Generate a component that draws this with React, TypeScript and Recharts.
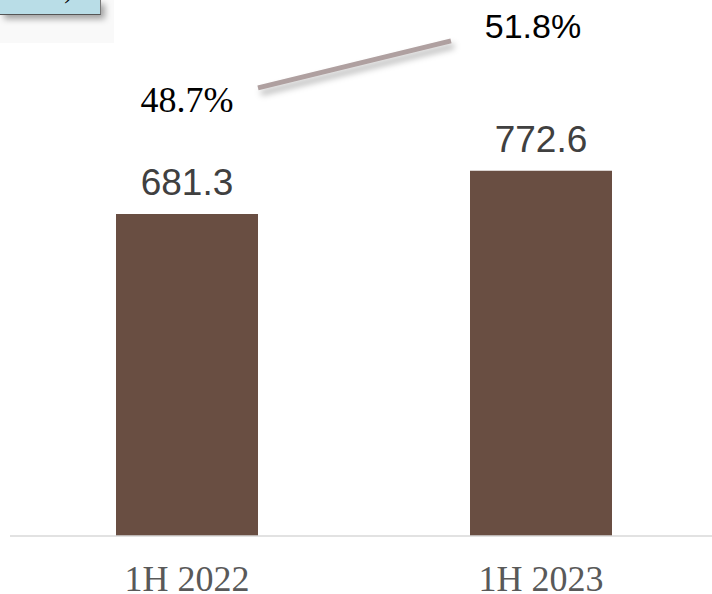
import React from 'react';
import {
  ComposedChart,
  Bar,
  Line,
  XAxis,
  YAxis,
  LabelList,
} from 'recharts';

// Values
const periods = ['1H 2022', '1H 2023'];
const revenue = [681.3, 772.6];
const margin = [48.7, 51.8];

const data = periods.map((period, i) => ({
  period,
  revenue: revenue[i],
  margin: margin[i],
}));

const SERIF = '"Liberation Serif", "Times New Roman", serif';
const SANS = '"Liberation Sans", Arial, sans-serif';

// per-label look of the percentage labels (the original mixes fonts)
const pctLabelStyle = [
  { font: SERIF, size: 36, dx: 0, dy: 24 },
  { font: SANS, size: 34, dx: -8, dy: -3 },
];

const renderPctLabel = (props: any) => {
  const { x, y, value, index } = props;
  const i = typeof index === 'number' ? index : margin.indexOf(Number(value));
  const s = pctLabelStyle[i] || pctLabelStyle[0];
  return (
    <text
      key={`pct-${i}`}
      x={Number(x) + s.dx}
      y={Number(y) + s.dy}
      textAnchor="middle"
      fill="#000000"
      fontFamily={s.font}
      fontSize={s.size}
    >
      {Number(value).toFixed(1) + '%'}
    </text>
  );
};

export default function App() {
  return (
    <div
      style={{
        position: 'absolute',
        top: 0,
        left: 0,
        width: 712,
        height: 594,
        overflow: 'hidden',
        background: '#ffffff',
      }}
    >
      {/* cropped unit box in the corner */}
      <div style={{ position: 'absolute', left: 0, top: 0, width: 114, height: 43, background: '#f9f9f9' }} />
      <div
        style={{
          position: 'absolute',
          left: 0,
          top: 0,
          width: 100,
          height: 14,
          background: '#b9dde7',
          borderBottom: '1px solid #555555',
          borderRight: '1px solid #777777',
          boxShadow: '4px 4px 6px rgba(0,0,0,0.35)',
          overflow: 'hidden',
        }}
      >
        <div
          style={{
            position: 'absolute',
            right: 27,
            top: -25,
            fontFamily: SERIF,
            fontSize: 26,
            lineHeight: '30px',
            color: '#000000',
            whiteSpace: 'nowrap',
          }}
        >
          (RMB mn)
        </div>
      </div>

      <div style={{ position: 'absolute', left: 0, top: 0 }}>
        <ComposedChart
          width={722}
          height={594}
          data={data}
          margin={{ top: 0, right: 4, bottom: 0, left: 10 }}
        >
          <XAxis
            xAxisId="cat"
            dataKey="period"
            height={58}
            axisLine={{ stroke: '#d9d9d9', strokeWidth: 1.5 }}
            tickLine={false}
            tickSize={0}
            tickMargin={29}
            tick={{ fill: '#595959', fontSize: 36, fontFamily: SERIF }}
            interval={0}
          />
          <XAxis
            xAxisId="line"
            dataKey="period"
            scale="point"
            padding={{ left: 248, right: 267 }}
            hide
          />
          <YAxis yAxisId="val" domain={[0, 1134]} allowDataOverflow hide />
          <YAxis yAxisId="pct" orientation="right" domain={[19.15, 54.5]} allowDataOverflow hide />
          <Bar
            xAxisId="cat"
            yAxisId="val"
            dataKey="revenue"
            fill="#694e42"
            barSize={142}
            isAnimationActive={false}
          >
            <LabelList
              dataKey="revenue"
              position="top"
              offset={19}
              fill="#404040"
              fontSize={37}
              fontFamily={SANS}
              formatter={(v: any) => Number(v).toFixed(1)}
            />
          </Bar>
          <Line
            xAxisId="line"
            yAxisId="pct"
            dataKey="margin"
            stroke="#afa0a0"
            strokeWidth={5}
            strokeLinecap="butt"
            dot={false}
            activeDot={false}
            style={{ filter: 'drop-shadow(3px 5px 3px rgba(0,0,0,0.3))' }}
            isAnimationActive={false}
          />
          <Line
            xAxisId="cat"
            yAxisId="pct"
            dataKey="margin"
            stroke="none"
            dot={false}
            activeDot={false}
            isAnimationActive={false}
          >
            <LabelList dataKey="margin" content={renderPctLabel} />
          </Line>
        </ComposedChart>
      </div>
    </div>
  );
}
